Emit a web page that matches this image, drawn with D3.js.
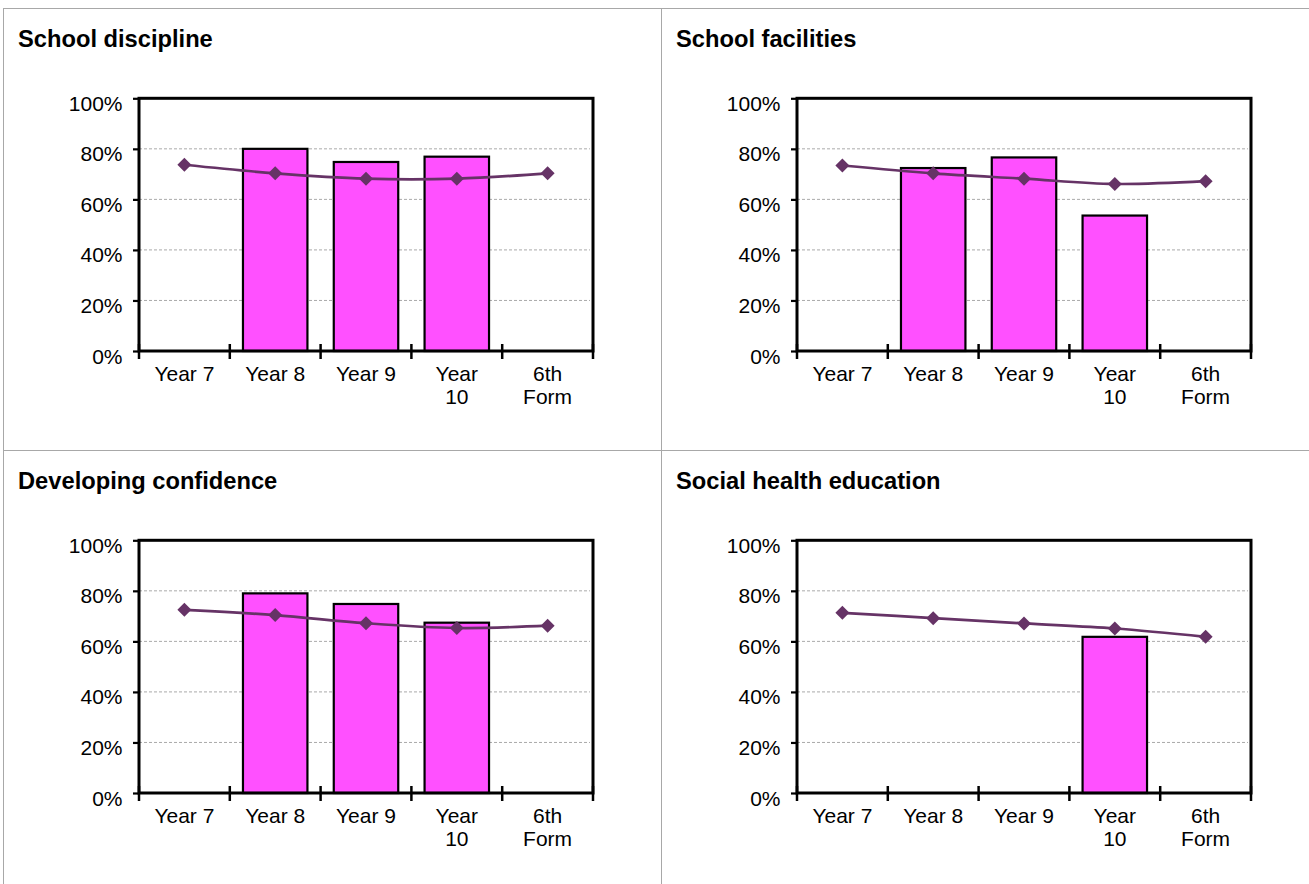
<!DOCTYPE html>
<html>
<head>
<meta charset="utf-8">
<script src="https://cdn.jsdelivr.net/npm/d3@7/dist/d3.min.js"></script>
<style>
  html, body { margin: 0; padding: 0; background: #fff; }
  svg { display: block; font-family: "Liberation Sans", Arial, sans-serif; }
</style>
</head>
<body>
<svg id="chart" width="1309" height="884"></svg>
<script>
// ---- data ----
const categories = ["Year 7", "Year 8", "Year 9", "Year 10", "6th Form"];
const tickLabels = [["Year 7"], ["Year 8"], ["Year 9"], ["Year", "10"], ["6th", "Form"]];
const yTicks = [0, 20, 40, 60, 80, 100];
const titles = ["School discipline", "School facilities", "Developing confidence", "Social health education"];

const disciplineBars = [null, 80, 74.8, 76.9, null];
const disciplineLine = [73.7, 70.3, 68.2, 68.2, 70.3];
const facilitiesBars = [null, 72.4, 76.6, 53.6, null];
const facilitiesLine = [73.4, 70.3, 68.2, 66.1, 67.2];
const confidenceBars = [null, 79.0, 74.8, 67.4, null];
const confidenceLine = [72.5, 70.4, 67.2, 65.3, 66.2];
const socialBars = [null, null, null, 61.8, null];
const socialLine = [71.3, 69.2, 67.1, 65.1, 61.8];

const panels = [
  { title: titles[0], bars: disciplineBars, line: disciplineLine, x0: 3, y0: 8 },
  { title: titles[1], bars: facilitiesBars, line: facilitiesLine, x0: 661, y0: 8 },
  { title: titles[2], bars: confidenceBars, line: confidenceLine, x0: 3, y0: 450 },
  { title: titles[3], bars: socialBars, line: socialLine, x0: 661, y0: 450 }
];

// ---- layout ----
const svg = d3.select("#chart");
const W = 1309, H = 884;
const borderColor = "#a8a8a8";
const plotOffX = 136, plotOffY = 90.3, plotW = 454, plotH = 252.7;
const barColor = "#ff50ff";
const lineColor = "#663366";

// panel borders
const borders = svg.append("g").attr("stroke", borderColor).attr("stroke-width", 1).attr("shape-rendering", "crispEdges");
borders.append("line").attr("x1", 3).attr("x2", W).attr("y1", 8.5).attr("y2", 8.5);
borders.append("line").attr("x1", 3.5).attr("x2", 3.5).attr("y1", 8).attr("y2", H);
borders.append("line").attr("x1", 661.5).attr("x2", 661.5).attr("y1", 8).attr("y2", H);
borders.append("line").attr("x1", 3).attr("x2", W).attr("y1", 450.5).attr("y2", 450.5);

const x = d3.scaleBand().domain(categories).range([0, plotW]).paddingInner(0.29).paddingOuter(0.145);
const y = d3.scaleLinear().domain([0, 100]).range([plotH, 0]);

panels.forEach(p => {
  const g = svg.append("g").attr("transform", `translate(${p.x0},${p.y0})`);
  g.append("text")
    .attr("x", 15).attr("y", 38.5)
    .attr("font-size", 23.7).attr("font-weight", "bold").attr("fill", "#000")
    .text(p.title);

  const pg = g.append("g").attr("transform", `translate(${plotOffX},${plotOffY})`);

  // gridlines
  pg.append("g").selectAll("line")
    .data(yTicks.filter(t => t > 0 && t < 100))
    .join("line")
    .attr("x1", 0).attr("x2", plotW - 3)
    .attr("y1", d => y(d)).attr("y2", d => y(d))
    .attr("stroke", "#aaaaaa").attr("stroke-width", 1)
    .attr("stroke-dasharray", "3,2");

  // bars
  const barData = categories.map((c, i) => ({ c, v: p.bars[i] })).filter(d => d.v != null);
  pg.append("g").selectAll("rect")
    .data(barData)
    .join("rect")
    .attr("x", d => x(d.c))
    .attr("width", x.bandwidth())
    .attr("y", d => y(d.v))
    .attr("height", d => plotH - y(d.v))
    .attr("fill", barColor)
    .attr("stroke", "#000").attr("stroke-width", 2.2);

  // frame
  pg.append("rect")
    .attr("x", 0).attr("y", 0).attr("width", plotW).attr("height", plotH)
    .attr("fill", "none").attr("stroke", "#000").attr("stroke-width", 3);

  // y axis
  const yAxis = d3.axisLeft(y).tickValues(yTicks).tickSize(6).tickPadding(10).tickFormat(d => d + "%");
  const ya = pg.append("g").call(yAxis);
  ya.select(".domain").remove();
  ya.selectAll(".tick line").attr("stroke", "#000").attr("stroke-width", 2.2);
  ya.selectAll(".tick text")
    .attr("font-size", 21).attr("font-family", "Liberation Sans, Arial, sans-serif")
    .attr("fill", "#000").attr("x", -16.5).attr("dy", null).attr("y", 12);

  // x axis ticks at category boundaries
  const step = x.step();
  const bounds = d3.range(categories.length + 1).map(i => i * step);
  pg.append("g").selectAll("line")
    .data(bounds)
    .join("line")
    .attr("x1", d => d).attr("x2", d => d)
    .attr("y1", plotH - 7).attr("y2", plotH + 8)
    .attr("stroke", "#000").attr("stroke-width", 2.5);

  // x labels
  const xl = pg.append("g").selectAll("text")
    .data(categories)
    .join("text")
    .attr("text-anchor", "middle")
    .attr("font-size", 21).attr("fill", "#000")
    .attr("transform", (d) => `translate(${x(d) + x.bandwidth() / 2},${plotH + 30})`);
  xl.each(function (d, i) {
    d3.select(this).selectAll("tspan")
      .data(tickLabels[i])
      .join("tspan")
      .attr("x", 0)
      .attr("y", (t, j) => j * 22.5)
      .text(t => t);
  });

  // line
  const lineData = categories.map((c, i) => ({ c, v: p.line[i] }));
  const lineGen = d3.line()
    .x(d => x(d.c) + x.bandwidth() / 2)
    .y(d => y(d.v))
    .curve(d3.curveCatmullRom.alpha(0));
  pg.append("path")
    .datum(lineData)
    .attr("d", lineGen)
    .attr("fill", "none").attr("stroke", lineColor).attr("stroke-width", 2.7);

  pg.append("g").selectAll("path")
    .data(lineData)
    .join("path")
    .attr("transform", d => `translate(${x(d.c) + x.bandwidth() / 2},${y(d.v)})`)
    .attr("d", "M0,-7L7,0L0,7L-7,0Z")
    .attr("fill", lineColor);
});
</script>
</body>
</html>
